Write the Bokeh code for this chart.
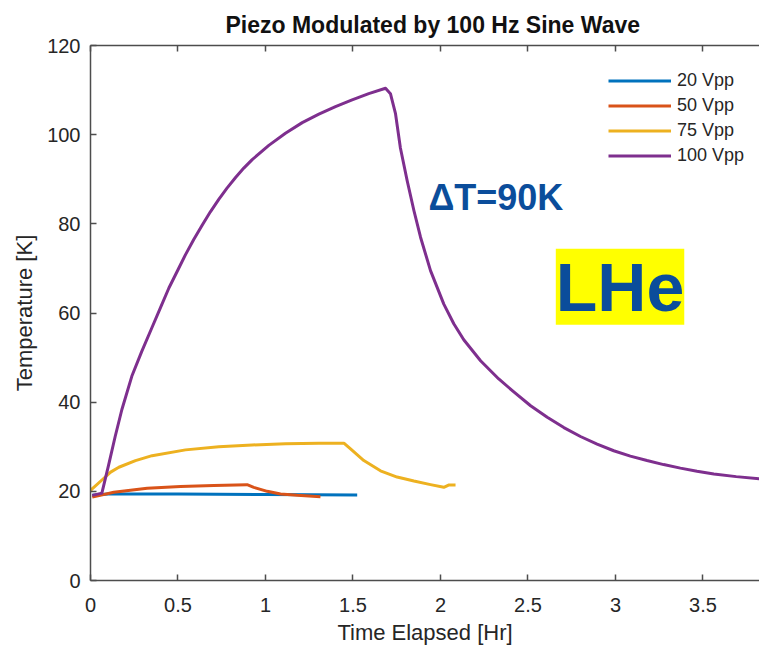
from bokeh.plotting import figure
from bokeh.models import Range1d, LinearAxis, Legend, LegendItem, Label, FixedTicker
from bokeh.embed import file_html
from bokeh.resources import INLINE

# ---- data ----
t20 = [0.01, 0.10, 0.50, 1.00, 1.524]
T20 = [19.1, 19.4, 19.4, 19.3, 19.2]

t50 = [0.01, 0.133, 0.324, 0.514, 0.705, 0.895, 0.933, 1.01, 1.086, 1.181, 1.314]
T50 = [18.7, 19.8, 20.7, 21.1, 21.3, 21.5, 20.9, 20.0, 19.4, 19.1, 18.8]

t75 = [0.0, 0.067, 0.115, 0.162, 0.257, 0.352, 0.543, 0.733, 0.924, 1.114, 1.305, 1.448,
       1.486, 1.562, 1.657, 1.752, 1.848, 1.943, 2.019, 2.046, 2.086]
T75 = [20.2, 22.6, 24.3, 25.4, 26.9, 28.0, 29.3, 30.0, 30.4, 30.7, 30.8, 30.8,
       29.5, 26.9, 24.6, 23.2, 22.3, 21.5, 20.9, 21.4, 21.4]

t100 = [0.01, 0.065, 0.103, 0.141, 0.179, 0.236, 0.293, 0.352, 0.40, 0.448,
        0.50, 0.543, 0.59, 0.638, 0.685, 0.733, 0.78, 0.829, 0.876, 0.924,
        1.019, 1.114, 1.21, 1.305, 1.40, 1.495, 1.59, 1.686, 1.714, 1.743,
        1.771, 1.81, 1.848, 1.886, 1.943, 2.019, 2.076, 2.133, 2.229, 2.333,
        2.419, 2.515, 2.61, 2.705, 2.80, 2.895, 2.99, 3.085, 3.18, 3.275,
        3.371, 3.466, 3.562, 3.69, 3.823]
T100 = [19.1, 19.6, 25.8, 32.3, 38.3, 45.8, 51.4, 56.8, 61.2, 65.6,
        69.7, 73.1, 76.5, 79.7, 82.7, 85.5, 88.0, 90.4, 92.5, 94.4,
        97.6, 100.3, 102.7, 104.6, 106.3, 107.8, 109.2, 110.4, 109.2, 104.7,
        97.0, 89.6, 83.0, 77.0, 69.5, 62.0, 57.6, 54.0, 49.3, 45.2,
        42.3, 39.2, 36.6, 34.3, 32.3, 30.6, 29.1, 27.9, 26.9, 26.0,
        25.2, 24.5, 23.9, 23.3, 22.8]

series_names = ["20 Vpp", "50 Vpp", "75 Vpp", "100 Vpp"]
series_colors = ["#0072BD", "#D95319", "#EDB120", "#7E2F8E"]

x_ticks = [0, 0.5, 1, 1.5, 2, 2.5, 3, 3.5]
x_tick_labels = ["0", "0.5", "1", "1.5", "2", "2.5", "3", "3.5"]
y_ticks = [0, 20, 40, 60, 80, 100, 120]

FONT = "Liberation Sans"
AXC = "#4d4d4d"
TXC = "#262626"

p = figure(width=759, height=647, x_range=Range1d(0, 3.823), y_range=Range1d(0, 120),
           output_backend="svg", toolbar_location=None,
           min_border_left=90, min_border_right=0, min_border_top=45, min_border_bottom=65,
           title="Piezo Modulated by 100 Hz Sine Wave")
p.outline_line_color = None
p.grid.visible = False
p.background_fill_color = "white"
p.border_fill_color = "white"

p.title.text_font = FONT
p.title.text_font_size = "23px"
p.title.text_font_style = "bold"
p.title.text_color = "#111111"
p.title.align = "left"
p.title.offset = 135
p.title.standoff = 15

def style_axis(ax):
    ax.axis_line_color = AXC
    ax.axis_line_width = 1.5
    ax.major_tick_line_color = AXC
    ax.major_tick_line_width = 1.5
    ax.major_tick_in = 6
    ax.major_tick_out = 0
    ax.minor_tick_line_color = None
    ax.major_label_text_font = FONT
    ax.major_label_text_font_size = "20px"
    ax.major_label_text_color = TXC
    ax.axis_label_text_font = FONT
    ax.axis_label_text_font_size = "22px"
    ax.axis_label_text_font_style = "normal"
    ax.axis_label_text_color = TXC

xa = p.xaxis[0]
style_axis(xa)
xa.ticker = FixedTicker(ticks=x_ticks)
xa.major_label_overrides = dict(zip(x_ticks, x_tick_labels))
xa.axis_label = "Time Elapsed [Hr]"
xa.major_label_standoff = 17
xa.axis_label_standoff = 5

ya = p.yaxis[0]
style_axis(ya)
ya.ticker = FixedTicker(ticks=y_ticks)
ya.axis_label = "Temperature [K]"
ya.major_label_standoff = 10
ya.axis_label_standoff = 7

top = LinearAxis(ticker=FixedTicker(ticks=x_ticks))
style_axis(top)
top.major_label_text_font_size = "1px"
top.major_label_text_color = None
top.major_label_standoff = 0
p.add_layout(top, "above")

renderers = []
for tx, ty, c in [(t20, T20, series_colors[0]), (t50, T50, series_colors[1]),
                  (t75, T75, series_colors[2]), (t100, T100, series_colors[3])]:
    r = p.line(tx, ty, line_color=c, line_width=3, line_join="round")
    renderers.append(r)

legend = Legend(items=[LegendItem(label=n, renderers=[r]) for n, r in zip(series_names, renderers)],
                location=(518, 412), orientation="vertical",
                label_text_font=FONT, label_text_font_size="18px", label_text_color=TXC,
                glyph_width=63, glyph_height=25, label_height=25, spacing=0,
                padding=0, margin=0, label_standoff=6,
                border_line_alpha=0, background_fill_alpha=0)
p.add_layout(legend)

dT = Label(x=1.931, y=86.0, text="ΔT=90K", text_font=FONT, text_font_size="36px",
           text_font_style="bold", text_color="#0B4D9B", text_baseline="alphabetic")
p.add_layout(dT)

lhe = Label(x=3.026, y=65.9, text="LHe", text_font=FONT, text_font_size="68px",
            text_font_style="bold", text_color="#0B4D9B", text_align="center",
            text_baseline="middle", background_fill_color="#FFFF00", padding=0)
p.add_layout(lhe)

open("out.html", "w").write(file_html(p, INLINE))
